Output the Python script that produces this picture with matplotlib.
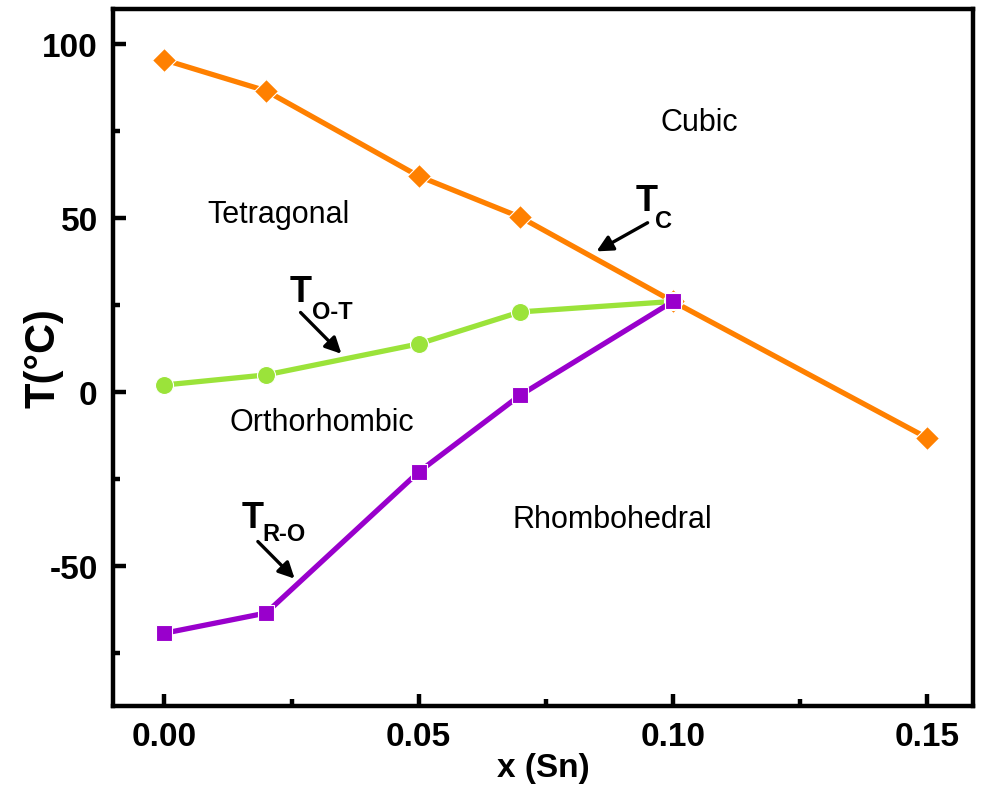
import numpy as np
import matplotlib.pyplot as plt

plt.rcParams['font.family'] = ['Liberation Sans', 'DejaVu Sans']
plt.rcParams['axes.unicode_minus'] = False

# Daten
x_tc = [0.00, 0.02, 0.05, 0.07, 0.10, 0.15]
t_c = [95.4, 86.5, 62.0, 50.2, 26.0, -13.2]

x_ot = [0.00, 0.02, 0.05, 0.07, 0.10]
t_ot = [2.0, 4.9, 13.8, 23.0, 26.0]

x_ro = [0.00, 0.02, 0.05, 0.07, 0.10]
t_ro = [-69.3, -63.5, -23.0, -0.9, 26.0]

fig = plt.figure(figsize=(9.81, 8.03), dpi=100)
ax = fig.add_axes([0.1152, 0.1196, 0.8766, 0.8679])

ax.plot(x_tc, t_c, color='#FF8000', lw=3.8, marker='D', ms=12,
        mec='white', mew=0.8, zorder=3)
ax.plot(x_ot, t_ot, color='#9BE33A', lw=3.8, marker='o', ms=13,
        mec='white', mew=0.8, zorder=4)
ax.plot(x_ro, t_ro, color='#9900CC', lw=3.8, marker='s', ms=12,
        mec='white', mew=0.8, zorder=5)

ax.set_xlim(-0.0101, 0.1590)
ax.set_ylim(-90.2, 110.0)
ax.set_xticks([0.00, 0.05, 0.10, 0.15])
ax.set_xticklabels(['0.00', '0.05', '0.10', '0.15'])
ax.set_xticks([0.025, 0.075, 0.125], minor=True)
ax.set_yticks([-50, 0, 50, 100])
ax.set_yticks([-75, -25, 25, 75], minor=True)

for sp in ax.spines.values():
    sp.set_linewidth(3.2)
ax.tick_params(which='both', direction='in', width=3.2, top=False, right=False)
ax.tick_params(which='major', length=9, labelsize=24, pad=11)
ax.tick_params(which='minor', length=5)
for lab in ax.get_xticklabels() + ax.get_yticklabels():
    lab.set_fontweight('bold')

ax.set_xlabel('x (Sn)', fontsize=24, fontweight='bold', labelpad=0)
ax.set_ylabel('T(°C)', fontsize=30, fontweight='bold')
ax.yaxis.set_label_coords(-0.057, 0.5)

# Bereiche
ax.text(0.1052, 77.5, 'Cubic', fontsize=22, ha='center', va='center')
ax.text(0.0225, 51.0, 'Tetragonal', fontsize=22, ha='center', va='center')
ax.text(0.0310, -8.5, 'Orthorhombic', fontsize=22, ha='center', va='center')
ax.text(0.0880, -36.5, 'Rhombohedral', fontsize=22, ha='center', va='center')

# Beschriftungen mit Pfeilen
arrow = dict(arrowstyle='-|>', color='black', lw=2.4, mutation_scale=24)
ax.annotate('', xy=(0.0845, 40.0), xytext=(0.0955, 49.0), arrowprops=arrow)
ax.text(0.0948, 55.0, 'T', fontsize=26, fontweight='bold', ha='center', va='center')
ax.text(0.0982, 49.3, 'C', fontsize=17, fontweight='bold', ha='center', va='center')

ax.annotate('', xy=(0.0352, 10.4), xytext=(0.0264, 23.4), arrowprops=arrow)
ax.text(0.0268, 29.0, 'T', fontsize=26, fontweight='bold', ha='center', va='center')
ax.text(0.0330, 23.0, 'O-T', fontsize=17, fontweight='bold', ha='center', va='center')

ax.annotate('', xy=(0.0260, -54.2), xytext=(0.0180, -42.4), arrowprops=arrow)
ax.text(0.0173, -36.0, 'T', fontsize=26, fontweight='bold', ha='center', va='center')
ax.text(0.0236, -40.8, 'R-O', fontsize=17, fontweight='bold', ha='center', va='center')

fig.savefig('out.png', dpi=100)
